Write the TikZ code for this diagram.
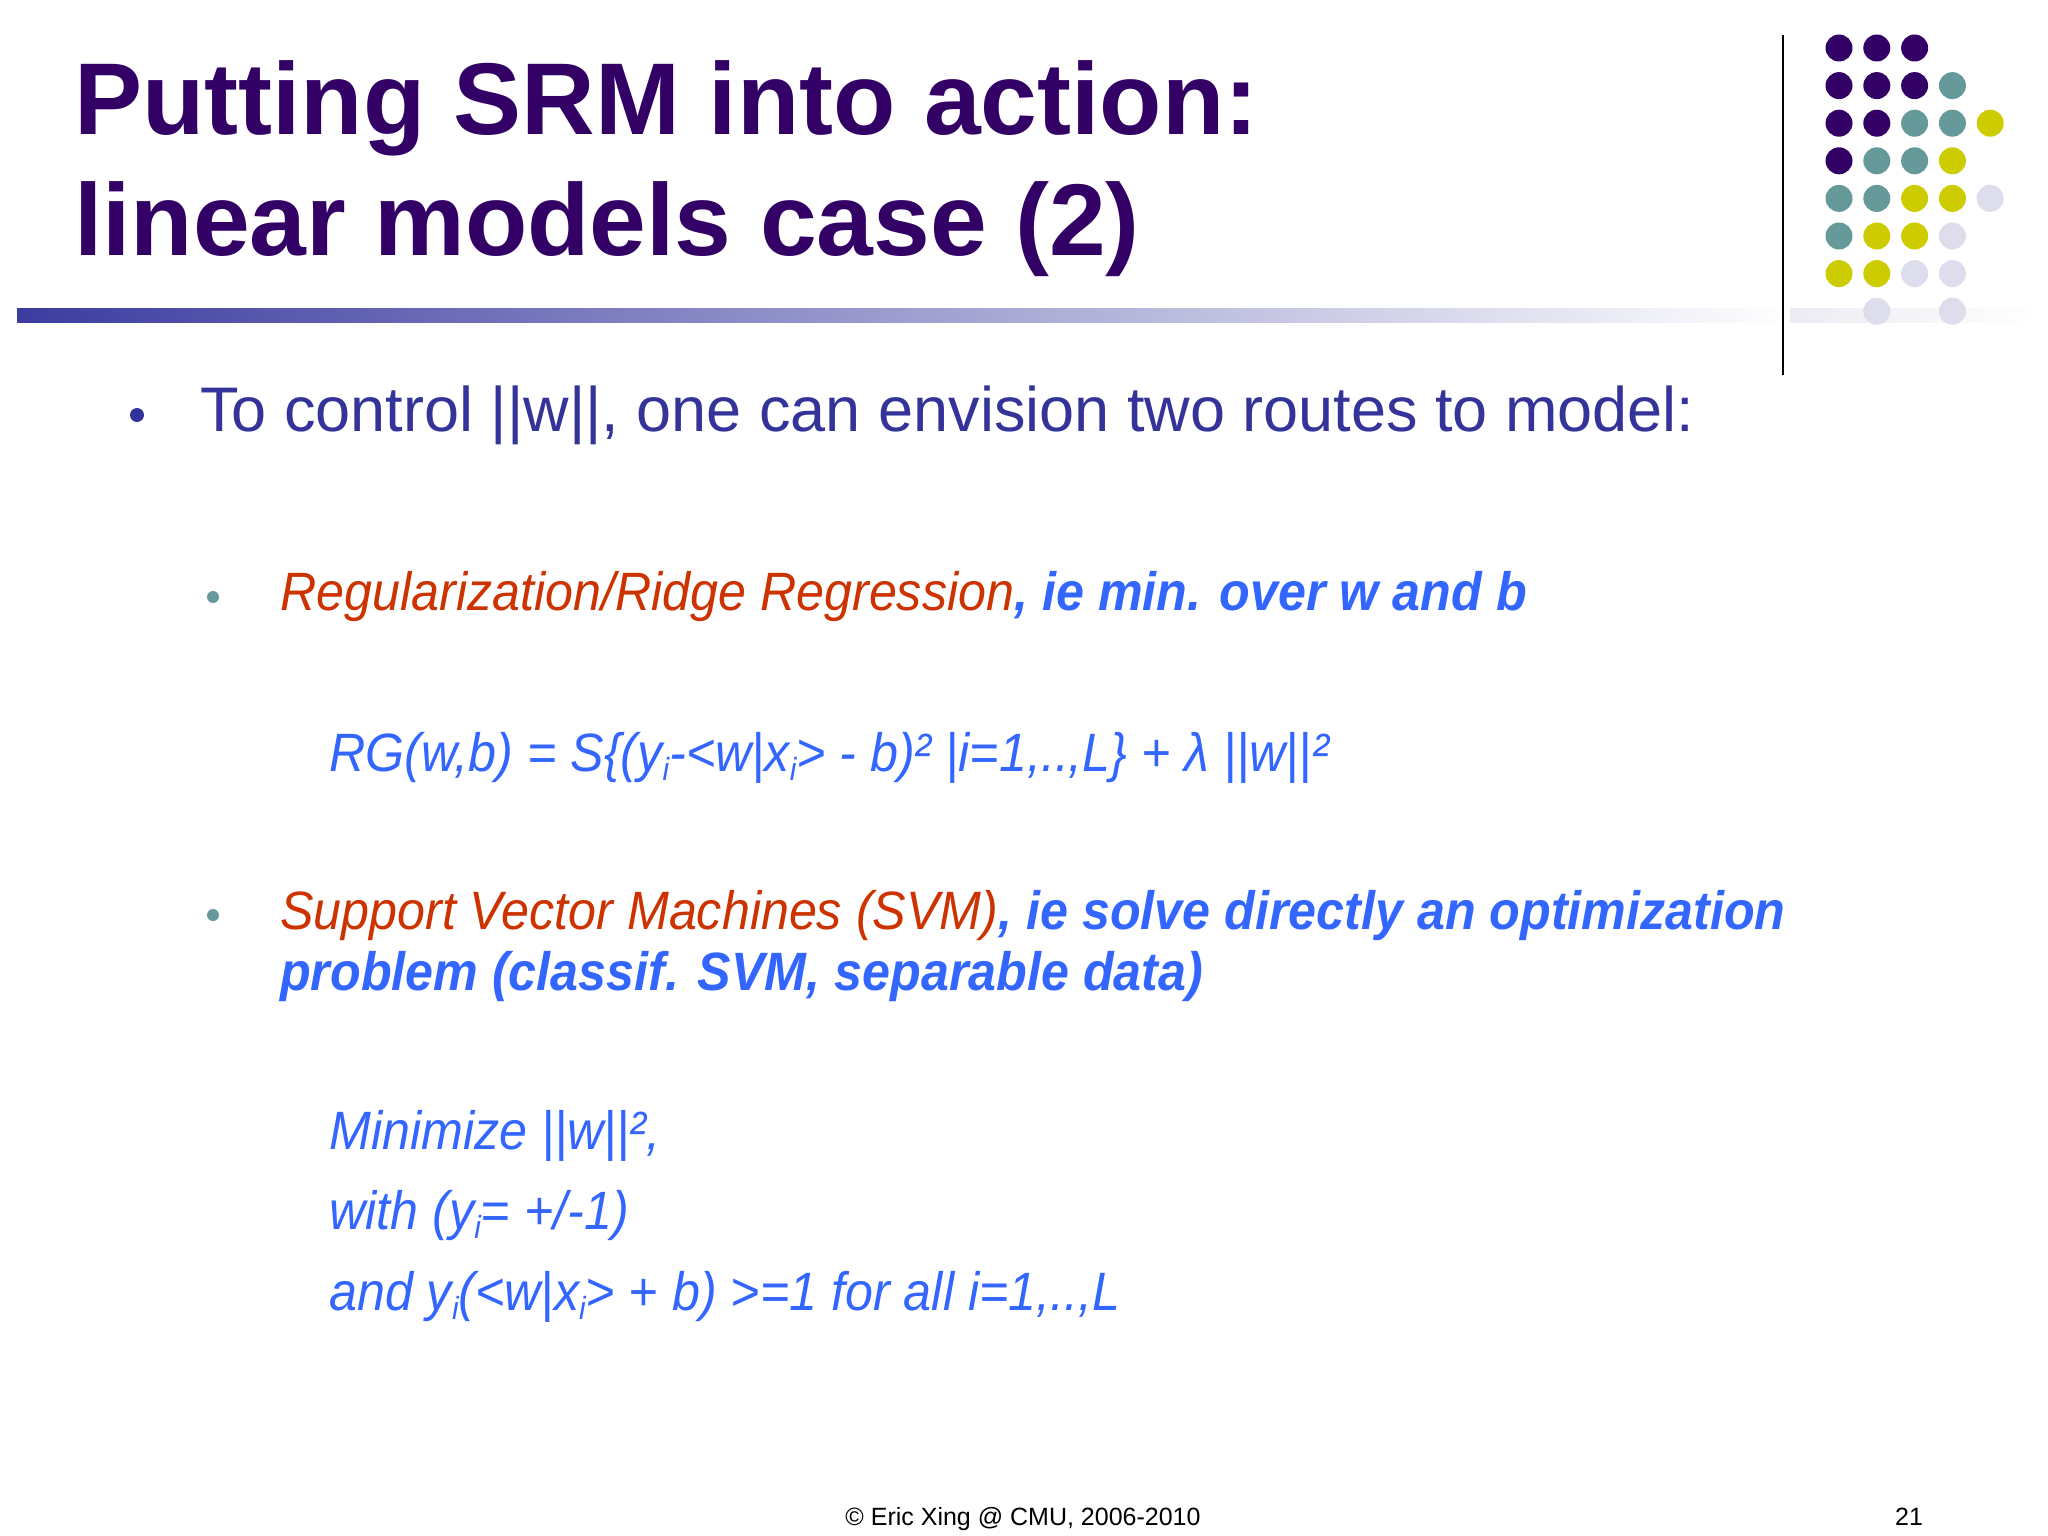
\documentclass[tikz,border=0pt]{standalone}
\usepackage{fontspec}
\setmainfont{Liberation Sans}
\newfontfamily\cond[FakeStretch=0.93]{Liberation Sans}
\definecolor{ttl}{HTML}{330066}
\definecolor{bdk}{HTML}{333399}
\definecolor{org}{HTML}{CC3300}
\definecolor{blu}{HTML}{3366FF}
\definecolor{cP}{HTML}{330066}
\definecolor{cT}{HTML}{669999}
\definecolor{cY}{HTML}{CCCC00}
\definecolor{cL}{HTML}{DDDDEE}
\newcommand{\sbi}{\raisebox{-0.35ex}{\fontsize{32}{32}\selectfont i}}
\begin{document}
\begin{tikzpicture}[x=1pt,y=-1pt,
  txt/.style={anchor=base west,inner sep=0pt},
  sub/.style={txt,font=\fontsize{54}{54}\selectfont\cond\itshape},
  dot/.style={circle,inner sep=0pt,minimum size=27pt}]
\useasboundingbox[fill=white] (0,0) rectangle (2048,1536);
% gradient bar
\shade[left color={rgb,255:red,60;green,60;blue,160},right color=white] (17,308) rectangle (1790,322);
\shade[left color={rgb,255:red,235;green,235;blue,242},right color=white] (1790,308) rectangle (2040,322);
\draw[line width=2pt] (1783,35) -- (1783,375);
% dots
\foreach \r/\row in {1/{P,P,P,N,N},2/{P,P,P,T,N},3/{P,P,T,T,Y},4/{P,T,T,Y,N},5/{T,T,Y,Y,L},6/{T,Y,Y,L,N},7/{Y,Y,L,L,N},8/{N,L,N,L,N}}{
  \foreach \c [count=\k] in \row {
    \if N\c\else
      \node[dot,fill=c\c] (d\r\k) at ({1839+37.8*(\k-1)},{48+37.6*(\r-1)}) {};
    \fi
  }
}
% title
\node[txt,text=ttl,font=\fontsize{102}{102}\selectfont\bfseries] (t1) at (74,135) {Putting SRM into action:};
\node[txt,text=ttl,font=\fontsize{102}{102}\selectfont\bfseries] (t2) at (74,255) {linear models case (2)};
% bullet 1
\node[dot,fill=bdk,minimum size=14pt] (b1) at (137,415) {};
\node[txt,text=bdk,font=\fontsize{63}{63}\selectfont] (l1) at (200,431) {To control ||w||, one can envision two routes to model:};
% sub bullets
\node[dot,fill=cT,minimum size=12pt] (b2) at (213,597) {};
\node[sub] (l2) at (280,610) {\textcolor{org}{Regularization/Ridge Regression}\textcolor{blu}{\bfseries, ie min. over w and b}};
\node[sub,text=blu] (l3) at (329,771) {RG(w,b) = S\{(y\sbi-<w|x\sbi> - b)² |i=1,..,L\} + λ ||w||²};
\node[dot,fill=cT,minimum size=12pt] (b3) at (213,915) {};
\node[sub] (l4) at (280,929) {\textcolor{org}{Support Vector Machines (SVM)}\textcolor{blu}{\bfseries, ie solve directly an optimization}};
\node[sub,text=blu,font=\fontsize{54}{54}\selectfont\cond\itshape\bfseries] (l5) at (280,990) {problem (classif. SVM, separable data)};
\node[sub,text=blu] (l6) at (329,1149) {Minimize ||w||²,};
\node[sub,text=blu] (l7) at (329,1229) {with (y\sbi= +/-1)};
\node[sub,text=blu] (l8) at (329,1310) {and y\sbi(<w|x\sbi> + b) >=1 for all i=1,..,L};
% footer
\node[anchor=base,inner sep=0pt,font=\fontsize{25}{25}\selectfont] (ft) at (1023,1525) {© Eric Xing @ CMU, 2006-2010};
\node[anchor=base,inner sep=0pt,font=\fontsize{25}{25}\selectfont] (pg) at (1909,1525) {21};
\end{tikzpicture}
\end{document}
